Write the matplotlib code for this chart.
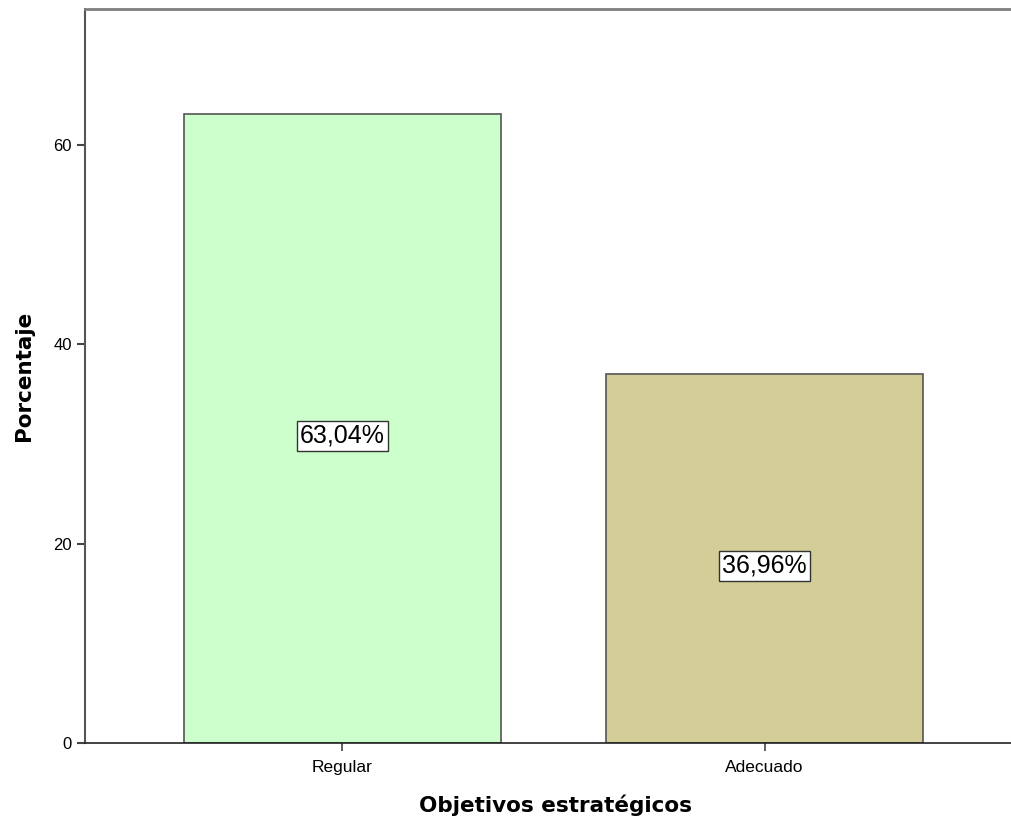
"""Objetivos estratégicos - gráfico de barras"""
import matplotlib
matplotlib.use("Agg")
import matplotlib.pyplot as plt

categorias = ["Regular", "Adecuado"]
porcentajes = [63.04, 36.96]
colores = ["#ccffcc", "#d3ce97"]
etiquetas = ["63,04%", "36,96%"]

plt.rcParams["font.family"] = ["Liberation Sans", "DejaVu Sans"]

fig = plt.figure(figsize=(10.12, 8.26), dpi=100)
ax = fig.add_axes([0.084, 0.1005, 0.93, 0.8885])

x = range(len(categorias))
bars = ax.bar(x, porcentajes, width=0.75, color=colores, edgecolor="#555555", linewidth=1.2)

# etiquetas dentro de las barras (SPSS las coloca un poco bajo el centro)
for b, txt in zip(bars, etiquetas):
    ax.annotate(txt, (b.get_x() + b.get_width() / 2, b.get_height() / 2),
                xytext=(0, -5), textcoords="offset points",
                ha="center", va="center", fontsize=18,
                bbox=dict(boxstyle="square,pad=0.12", facecolor="white", edgecolor="#333333", linewidth=1))

ax.set_xlim(-0.61, 1.62)
ax.set_ylim(0, 73.6)
ax.set_yticks([0, 20, 40, 60])
ax.set_xticks(list(x))
ax.set_xticklabels(categorias, fontsize=12.5)
ax.tick_params(axis="y", labelsize=12, length=6, width=1.5, color="#444444")
ax.tick_params(axis="x", length=6, width=1.2, color="#444444", pad=6)

ax.spines["right"].set_visible(False)
ax.spines["top"].set_color("#808080")
ax.spines["top"].set_linewidth(2)
ax.spines["left"].set_color("#555555")
ax.spines["left"].set_linewidth(1.5)
ax.spines["bottom"].set_color("#222222")
ax.spines["bottom"].set_linewidth(1.2)

ax.set_ylabel("Porcentaje", fontsize=15.5, fontweight="bold", family="DejaVu Sans", labelpad=14)
ax.set_xlabel("Objetivos estratégicos", fontsize=15.5, fontweight="bold", family="DejaVu Sans", labelpad=14)

fig.savefig("out.png", dpi=100, facecolor="white")
